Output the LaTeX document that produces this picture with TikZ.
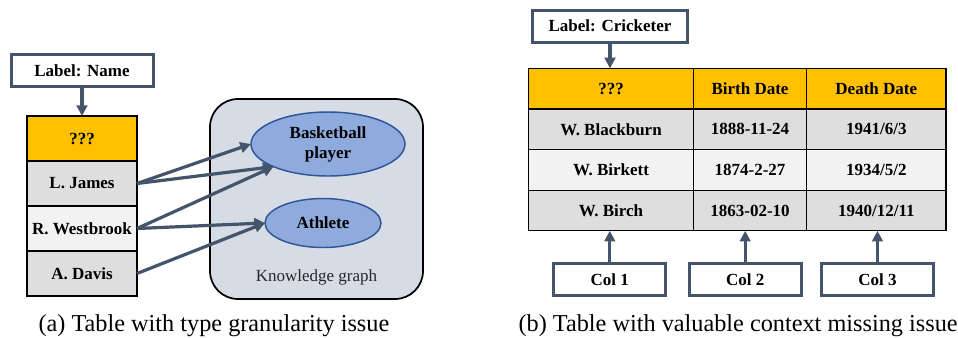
\documentclass[tikz,border=0pt]{standalone}
\usepackage{fontspec}
\setmainfont{Liberation Serif}
\usetikzlibrary{shapes.geometric, arrows.meta}
\definecolor{slate}{RGB}{68,84,106}
\definecolor{headorange}{RGB}{255,192,0}
\definecolor{rowdark}{RGB}{222,222,222}
\definecolor{rowlight}{RGB}{242,242,242}
\definecolor{kgfill}{RGB}{214,220,229}
\definecolor{conceptfill}{RGB}{143,170,220}
\definecolor{conceptline}{RGB}{47,85,151}

\begin{document}
\begin{tikzpicture}[x=0.75pt,y=0.75pt,yscale=-1,xscale=1,
  cellbox/.style={draw=black, line width=0.8pt, rectangle, inner sep=0pt, outer sep=0pt, font=\fontsize{12.75}{15}\selectfont\bfseries},
  lcell/.style={cellbox, minimum width=82.5pt, minimum height=33.75pt},
  rcell/.style={cellbox, minimum height=30.45pt},
  labelbox/.style={draw=slate, line width=2.25pt, fill=white, rectangle, inner sep=0pt, outer sep=0pt, minimum height=24pt, font=\fontsize{12.75}{15}\selectfont\bfseries},
  concept/.style={draw=conceptline, line width=1.1pt, fill=conceptfill, ellipse, inner sep=0pt, outer sep=0pt, align=center, font=\fontsize{12.75}{15}\selectfont\bfseries},
  arr/.style={draw=slate, line width=2.4pt, -{Triangle[length=8pt,width=8pt]}},
  subcap/.style={inner sep=0pt, font=\fontsize{18.2}{22}\selectfont}]
\useasboundingbox (0,0) rectangle (958,337);

%Knowledge graph area
\draw (316.5,199) node (kg) [draw=black, line width=1.3pt, fill=kgfill, rectangle, rounded corners=21pt, minimum width=159.75pt, minimum height=150pt] {};
% Text Node
\draw (316.5,277) node (kgname) [inner sep=0pt, text=black!85, font=\fontsize{12.75}{15}\selectfont] {Knowledge graph};
\draw (328,144) node (bp) [concept, minimum width=115.5pt, minimum height=48pt] {Basketball\\player};
\draw (323,223) node (ath) [concept, minimum width=87pt, minimum height=36.75pt] {Athlete};

%Left table
\draw (82,138.5) node (q) [lcell, fill=headorange] {???};
\draw (82,183.5) node (r1) [lcell, fill=rowdark] {L. James};
\draw (82,228.5) node (r2) [lcell, fill=rowlight] {R. Westbrook};
\draw (82,273.5) node (r3) [lcell, fill=rowdark] {A. Davis};
\draw (82,70.5) node (lname) [labelbox, minimum width=106.5pt] {Label: Name};

%Straight Lines
\draw [arr] (lname.south) -- (q.north);
\draw [arr] (r1.east) -- (bp.west);
\draw [arr] (r1.east) -- (bp.south west);
\draw [arr] (r2.east) -- (bp.south west);
\draw [arr] (r2.east) -- (ath.west);
\draw [arr] (r3.east) -- (ath.west);

%Right table
\draw (611,88.7) node (h1) [rcell, fill=headorange, minimum width=123.45pt] {???};
\draw (750,88.7) node (h2) [rcell, fill=headorange, minimum width=85pt] {Birth Date};
\draw (876.3,88.7) node (h3) [rcell, fill=headorange, minimum width=104.5pt] {Death Date};
\draw (611,129.3) node (a1) [rcell, fill=rowdark, minimum width=123.45pt] {W. Blackburn};
\draw (750,129.3) node (a2) [rcell, fill=rowdark, minimum width=85pt] {1888-11-24};
\draw (876.3,129.3) node (a3) [rcell, fill=rowdark, minimum width=104.5pt] {1941/6/3};
\draw (611,170) node (b1) [rcell, fill=rowlight, minimum width=123.45pt] {W. Birkett};
\draw (750,170) node (b2) [rcell, fill=rowlight, minimum width=85pt] {1874-2-27};
\draw (876.3,170) node (b3) [rcell, fill=rowlight, minimum width=104.5pt] {1934/5/2};
\draw (611,210.5) node (c1) [rcell, fill=rowdark, minimum width=123.45pt] {W. Birch};
\draw (750,210.5) node (c2) [rcell, fill=rowdark, minimum width=85pt] {1863-02-10};
\draw (876.3,210.5) node (c3) [rcell, fill=rowdark, minimum width=104.5pt] {1940/12/11};
\draw (610,26.2) node (lcrick) [labelbox, minimum width=116.7pt] {Label: Cricketer};
\draw (609.8,279.5) node (col1) [labelbox, minimum width=84pt] {Col 1};
\draw (745.2,279.5) node (col2) [labelbox, minimum width=84pt] {Col 2};
\draw (877.5,279.5) node (col3) [labelbox, minimum width=84pt] {Col 3};

%Straight Lines
\draw [arr] (lcrick.south) -- (lcrick.south |- h1.north);
\draw [arr] (col1.north) -- (col1.north |- c1.south);
\draw [arr] (col2.north) -- (col2.north |- c2.south);
\draw [arr] (col3.north) -- (col3.north |- c3.south);

% Text Node
\draw (38.3,331.5) node (capa) [subcap, anchor=base west] {(a) Table with type granularity issue};
% Text Node
\draw (518.3,331.5) node (capb) [subcap, anchor=base west] {(b) Table with valuable context missing issue};

\end{tikzpicture}
\end{document}
